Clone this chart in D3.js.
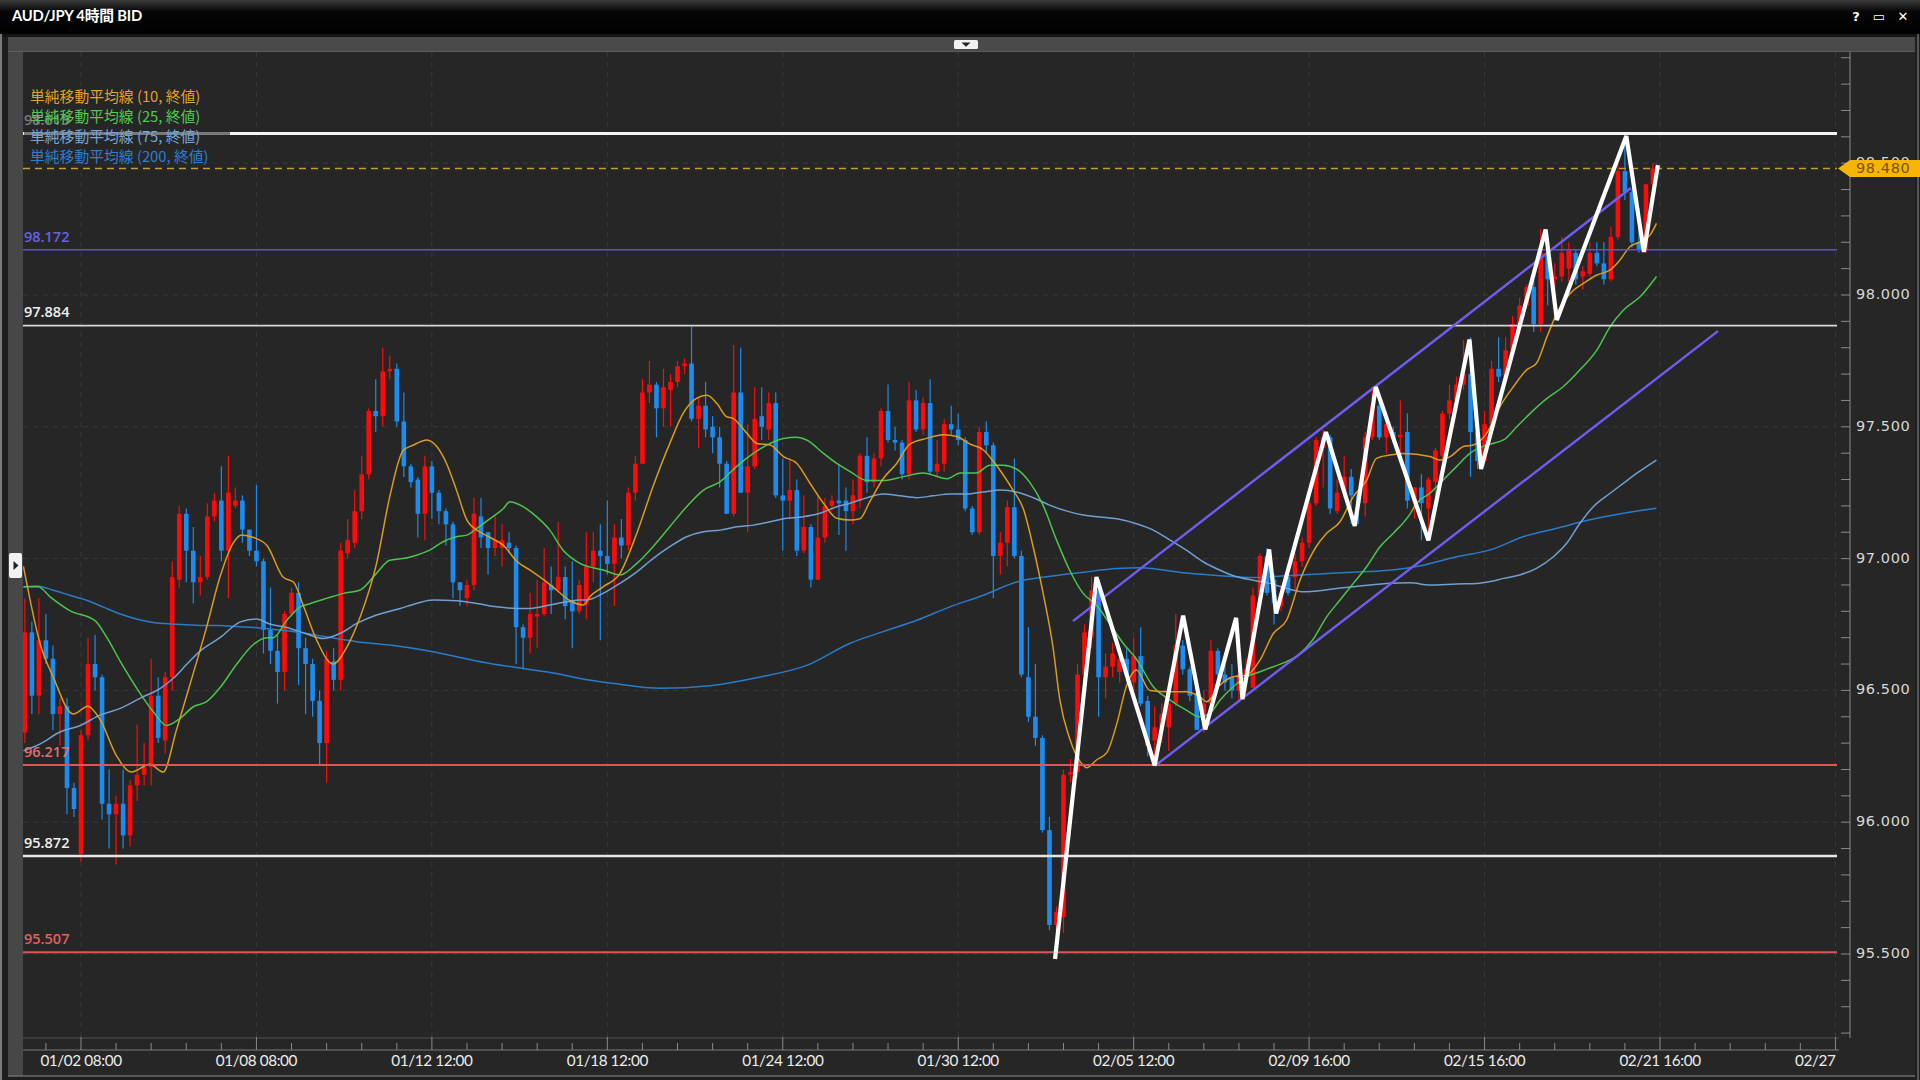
<!DOCTYPE html>
<html><head><meta charset="utf-8">
<script src="https://cdn.jsdelivr.net/npm/d3@7"></script>
<style>html,body{margin:0;padding:0;background:#1b1b1b;overflow:hidden}</style>
</head><body>
<svg id="c" width="1920" height="1080"></svg>
<script>
// ---------------- DATA ----------------
const opens  = [96.34,96.72,96.48,96.69,96.62,96.41,96.44,96.13,95.88,96.33,96.60,96.55,96.07,96.03,96.07,95.95,96.14,96.18,96.21,96.48,96.31,96.55,96.92,97.17,97.03,96.91,96.93,97.16,97.22,97.03,97.20,97.22,97.11,97.03,96.99,96.73,96.65,96.57,96.79,96.87,96.66,96.60,96.46,96.30,96.61,96.54,97.02,97.06,97.18,97.32,97.56,97.54,97.71,97.72,97.52,97.35,97.30,97.17,97.35,97.25,97.18,97.13,96.91,96.85,96.90,97.16,97.10,97.04,97.04,97.06,97.04,96.74,96.70,96.78,96.79,96.90,96.88,96.93,96.84,96.80,96.83,96.97,97.03,97.01,96.98,97.08,97.05,97.25,97.36,97.63,97.66,97.57,97.64,97.67,97.73,97.74,97.53,97.58,97.50,97.46,97.36,97.17,97.63,97.25,97.35,97.54,97.49,97.59,97.24,97.22,97.26,97.03,97.12,96.92,97.08,97.20,97.22,97.22,97.18,97.22,97.39,97.29,97.38,97.56,97.45,97.44,97.32,97.60,97.49,97.59,97.33,97.36,97.51,97.49,97.45,97.19,97.10,97.48,97.43,97.01,97.06,97.195,97.01,96.55,96.40,96.32,95.97,95.61,95.64,96.18,96.19,96.56,96.70,96.88,96.55,96.59,96.57,96.62,96.53,96.63,96.46,96.31,96.36,96.36,96.45,96.67,96.58,96.49,96.36,96.45,96.65,96.56,96.55,96.50,96.56,96.51,96.86,97.01,96.92,96.82,96.93,96.93,96.99,97.06,97.21,97.42,97.46,97.18,97.25,97.31,97.24,97.21,97.46,97.58,97.46,97.48,97.46,97.48,97.22,97.27,97.19,97.29,97.39,97.55,97.60,97.66,97.70,97.48,97.37,97.51,97.72,97.69,97.79,97.89,97.96,98.03,97.89,98.16,98.06,98.07,98.10,98.16,98.07,98.08,98.16,98.12,98.06,98.22,98.47,98.39,98.20,98.17,98.42];
const highs  = [96.85,96.76,96.85,96.79,96.67,96.47,96.47,96.15,96.35,96.70,96.71,96.56,96.20,96.10,96.20,96.16,96.37,96.30,96.62,96.55,96.57,96.99,97.20,97.19,97.12,97.01,97.21,97.25,97.35,97.39,97.27,97.24,97.11,97.28,97.00,96.89,96.71,96.80,96.89,96.91,96.70,96.62,96.50,96.65,96.66,97.06,97.15,97.26,97.39,97.57,97.68,97.80,97.77,97.74,97.63,97.36,97.31,97.39,97.37,97.26,97.19,97.14,96.91,96.92,97.23,97.23,97.10,97.16,97.13,97.10,97.05,96.75,96.87,96.92,97.04,96.97,97.14,96.97,96.99,96.92,97.10,97.10,97.13,97.22,97.13,97.15,97.27,97.39,97.68,97.75,97.67,97.72,97.70,97.75,97.76,97.88,97.61,97.67,97.54,97.50,97.37,97.81,97.80,97.51,97.65,97.65,97.63,97.63,97.38,97.38,97.30,97.24,97.13,97.24,97.23,97.24,97.36,97.27,97.30,97.40,97.46,97.40,97.57,97.66,97.50,97.45,97.67,97.64,97.61,97.68,97.45,97.53,97.58,97.55,97.46,97.20,97.50,97.52,97.44,97.10,97.22,97.38,97.03,96.74,96.60,96.33,96.02,95.68,96.20,96.24,96.60,96.75,96.93,96.92,96.64,96.68,96.66,96.66,96.70,96.74,96.48,96.44,96.45,96.49,96.79,96.69,96.59,96.50,96.50,96.69,96.66,96.60,96.60,96.65,96.62,96.89,97.02,97.04,96.94,96.90,96.94,97.02,97.08,97.24,97.46,97.49,97.47,97.30,97.39,97.34,97.25,97.48,97.65,97.60,97.56,97.50,97.60,97.55,97.27,97.32,97.31,97.42,97.56,97.66,97.69,97.83,97.84,97.49,97.56,97.75,97.84,97.84,97.92,97.99,98.04,98.06,98.25,98.22,98.12,98.22,98.20,98.17,98.11,98.20,98.20,98.20,98.26,98.50,98.58,98.40,98.33,98.42,98.50];
const lows   = [96.30,96.41,96.41,96.60,96.35,96.29,96.03,96.02,95.85,96.31,96.50,96.01,95.90,95.84,95.90,95.91,96.08,96.14,96.14,96.30,96.26,96.50,96.89,96.91,96.83,96.86,96.92,97.14,96.99,96.85,97.19,97.06,97.01,96.97,96.64,96.60,96.45,96.50,96.78,96.52,96.41,96.40,96.22,96.15,96.50,96.50,97.00,97.04,97.15,97.30,97.48,97.50,97.68,97.50,97.31,97.27,97.08,97.07,97.15,97.13,97.05,96.85,96.82,96.82,96.88,97.04,96.94,97.01,96.97,97.02,96.60,96.58,96.64,96.66,96.78,96.79,96.87,96.77,96.66,96.79,96.77,96.91,96.69,96.94,96.82,97.00,97.03,97.22,97.36,97.59,97.46,97.50,97.50,97.65,97.70,97.52,97.42,97.46,97.40,97.27,97.17,97.16,97.25,97.10,97.34,97.45,97.45,97.23,97.03,97.15,97.01,97.02,96.89,96.92,97.06,97.18,97.09,97.03,97.13,97.19,97.25,97.27,97.35,97.44,97.41,97.30,97.30,97.48,97.47,97.32,97.31,97.33,97.47,97.43,97.18,97.09,97.09,97.40,96.85,96.94,96.97,97.00,96.55,96.38,96.29,95.96,95.59,95.50,95.58,96.15,96.17,96.50,96.66,96.40,96.47,96.55,96.53,96.53,96.50,96.44,96.25,96.22,96.30,96.27,96.44,96.56,96.46,96.35,96.34,96.44,96.55,96.50,96.47,96.46,96.50,96.51,96.83,96.86,96.75,96.80,96.86,96.88,96.97,97.04,97.20,97.27,97.17,97.17,97.23,97.13,97.13,97.16,97.45,97.45,97.40,97.44,97.40,97.19,97.15,97.07,97.10,97.19,97.35,97.53,97.59,97.64,97.31,97.34,97.36,97.49,97.67,97.69,97.78,97.86,97.95,97.86,97.86,97.96,97.92,98.05,98.05,98.04,98.02,98.07,98.11,98.04,98.05,98.21,98.36,98.18,98.16,98.16,98.40];
const closes = [96.72,96.48,96.69,96.62,96.41,96.44,96.13,96.05,96.33,96.60,96.55,96.07,96.03,96.07,95.95,96.14,96.18,96.21,96.48,96.32,96.55,96.93,97.17,97.03,96.91,96.93,97.16,97.22,97.03,97.25,97.22,97.11,97.03,96.99,96.73,96.65,96.57,96.79,96.87,96.66,96.60,96.46,96.30,96.62,96.54,97.03,97.07,97.18,97.32,97.56,97.54,97.71,97.72,97.52,97.35,97.29,97.17,97.35,97.25,97.18,97.13,96.91,96.88,96.90,97.17,97.08,97.04,97.07,97.07,97.04,96.74,96.70,96.79,96.79,96.91,96.88,96.93,96.82,96.80,96.90,96.97,97.03,97.01,96.98,97.08,97.05,97.25,97.36,97.63,97.66,97.57,97.65,97.67,97.73,97.74,97.53,97.58,97.49,97.46,97.36,97.17,97.63,97.25,97.35,97.53,97.50,97.59,97.24,97.22,97.26,97.03,97.12,96.92,97.08,97.20,97.22,97.21,97.18,97.24,97.39,97.29,97.38,97.56,97.45,97.44,97.32,97.60,97.49,97.59,97.33,97.36,97.51,97.49,97.45,97.19,97.10,97.48,97.43,97.01,97.06,97.195,97.01,96.56,96.40,96.32,95.97,95.61,95.66,96.18,96.19,96.56,96.72,96.88,96.55,96.59,96.64,96.62,96.56,96.63,96.45,96.29,96.36,96.41,96.45,96.67,96.58,96.48,96.35,96.45,96.65,96.56,96.53,96.50,96.56,96.58,96.86,97.01,96.87,96.83,96.87,96.87,96.99,97.06,97.21,97.45,97.46,97.19,97.25,97.31,97.24,97.21,97.46,97.58,97.46,97.51,97.46,97.47,97.22,97.27,97.21,97.30,97.41,97.55,97.60,97.66,97.70,97.48,97.37,97.51,97.72,97.69,97.79,97.89,97.96,98.03,97.89,98.16,98.06,98.07,98.16,98.17,98.06,98.09,98.16,98.12,98.06,98.22,98.47,98.39,98.20,98.17,98.42,98.48];

const xTickIdx    = [8,33,58,83,108,133,158,183,208,233,258];
const xTickLabels = ["01/02 08:00","01/08 08:00","01/12 12:00","01/18 12:00","01/24 12:00","01/30 12:00","02/05 12:00","02/09 16:00","02/15 16:00","02/21 16:00","02/27"];
const yTickValues = [95.5,96.0,96.5,97.0,97.5,98.0,98.5];

const levelPrices = [98.613,98.172,97.884,96.217,95.872,95.507];
const levelLabels = ["98.613","98.172","97.884","96.217","95.872","95.507"];
const levelColors = ["#f4f4f4","#5a52d8","#d6d6d6","#e05454","#e6e6e6","#e05454"];
const levelLabelColors = ["#f4f4f4","#6a62e0","#f0f0f0","#e07070","#f0f0f0","#e06060"];
const currentPrice = 98.480;

const zigIdx   = [146.8,152.7,161.0,165.05,168.2,172.6,173.5,177.3,178.3,185.4,189.5,192.5,200.0,205.85,207.5,216.7,218.3,228.2,230.7,232.7];
const zigPrice = [95.481,96.930,96.216,96.784,96.352,96.775,96.467,97.035,96.792,97.480,97.124,97.651,97.069,97.831,97.340,98.248,97.905,98.603,98.163,98.493];

const channelUpperIdx = [149.35,228.86], channelUpperPrice = [96.763,98.406];
const channelLowerIdx = [161.0,241.26],  channelLowerPrice = [96.213,97.863];

const maNames  = ["単純移動平均線 (10, 終値)","単純移動平均線 (25, 終値)","単純移動平均線 (75, 終値)","単純移動平均線 (200, 終値)"];
const maColors = ["#e3a21f","#4fcc4f","#74a6da","#2a7fd2"];

const sma10 = [[-0.2,96.97],[2.2,96.675],[4.05,96.55],[6.9,96.41],[9.0,96.44],[10.7,96.39],[13.1,96.25],[15.2,96.19],[17.8,96.22],[19.7,96.19],[21.6,96.35],[23.5,96.52],[25.9,96.74],[27.8,96.93],[29.7,97.06],[30.9,97.09],[32.6,97.08],[34.5,97.05],[36.8,96.93],[38.3,96.91],[39.7,96.82],[41.6,96.69],[43.9,96.60],[45.9,96.665],[47.8,96.78],[50.1,96.98],[52.0,97.235],[53.9,97.41],[55.3,97.43],[57.3,97.45],[58.7,97.425],[60.1,97.36],[61.5,97.26],[63.0,97.146],[64.9,97.10],[66.3,97.08],[68.2,97.05],[70.1,96.99],[72.0,96.956],[73.9,96.92],[75.8,96.88],[77.7,96.84],[79.6,96.824],[80.5,96.855],[82.4,96.893],[84.8,96.944],[87.2,97.096],[89.5,97.273],[91.9,97.437],[93.8,97.551],[95.7,97.608],[97.2,97.62],[98.6,97.589],[100.0,97.538],[100.9,97.532],[102.9,97.475],[104.3,97.437],[106.2,97.431],[108.1,97.387],[110.0,97.361],[111.9,97.285],[113.8,97.21],[115.7,97.153],[117.6,97.146],[119.0,97.151],[120.4,97.216],[122.3,97.303],[124.2,97.36],[126.1,97.434],[128.5,97.456],[130.9,97.47],[132.8,97.463],[134.7,97.434],[136.6,97.412],[138.0,97.369],[139.4,97.318],[140.8,97.26],[142.3,97.187],[143.7,97.042],[145.1,96.868],[146.5,96.665],[147.5,96.461],[148.9,96.316],[150.4,96.229],[151.3,96.207],[152.7,96.236],[154.2,96.265],[155.6,96.374],[157.0,96.519],[158.4,96.577],[160.3,96.50],[163.2,96.495],[165.5,96.495],[167.4,96.476],[168.4,96.457],[170.3,96.52],[172.2,96.552],[174.1,96.558],[176.0,96.615],[177.9,96.716],[179.8,96.767],[181.7,96.918],[184.0,97.045],[185.5,97.096],[187.4,97.14],[189.3,97.235],[191.2,97.298],[192.6,97.38],[194.5,97.393],[196.4,97.399],[200.2,97.387],[201.6,97.374],[203.1,97.387],[205.0,97.425],[206.4,97.431],[208.3,97.475],[210.2,97.577],[212.1,97.652],[214.0,97.716],[215.4,97.741],[216.9,97.842],[218.3,97.93],[220.2,98.006],[222.1,98.044],[224.0,98.076],[225.9,98.095],[227.3,98.133],[228.7,98.183],[230.2,98.202],[231.6,98.228],[232.5,98.272]];
const sma25 = [[-0.2,96.893],[1.9,96.893],[3.6,96.855],[6.4,96.803],[10.0,96.765],[11.7,96.70],[13.6,96.61],[15.9,96.51],[18.3,96.419],[20.2,96.367],[22.1,96.393],[24.0,96.438],[25.9,96.457],[27.8,96.51],[30.2,96.60],[32.6,96.675],[34.5,96.70],[35.4,96.70],[37.3,96.765],[39.2,96.816],[40.6,96.829],[43.0,96.849],[45.4,96.868],[47.8,96.881],[50.1,96.944],[52.0,96.994],[53.9,97.0],[55.8,97.013],[57.7,97.032],[59.6,97.064],[61.5,97.083],[63.0,97.089],[64.4,97.115],[66.3,97.152],[68.2,97.19],[69.1,97.216],[71.0,97.197],[72.9,97.159],[74.8,97.108],[76.7,97.032],[79.1,96.982],[82.4,96.957],[84.8,96.938],[87.2,96.982],[89.5,97.045],[91.9,97.121],[94.3,97.197],[96.7,97.26],[99.1,97.292],[101.4,97.349],[103.8,97.399],[106.2,97.437],[108.1,97.456],[110.0,97.46],[111.4,97.45],[113.8,97.399],[115.7,97.361],[117.6,97.33],[120.0,97.296],[122.3,97.296],[125.2,97.311],[128.0,97.325],[131.4,97.303],[133.3,97.325],[135.6,97.325],[137.5,97.354],[139.4,97.354],[141.3,97.34],[143.2,97.289],[145.1,97.202],[147.0,97.071],[148.9,96.955],[150.8,96.868],[152.7,96.824],[154.6,96.752],[156.5,96.679],[158.4,96.618],[160.8,96.514],[163.2,96.463],[165.5,96.425],[167.4,96.40],[168.9,96.413],[170.3,96.463],[172.2,96.514],[174.1,96.552],[176.0,96.571],[177.9,96.59],[179.8,96.609],[181.7,96.64],[183.5,96.691],[185.5,96.779],[187.4,96.843],[189.3,96.906],[191.2,96.969],[193.1,97.045],[195.0,97.096],[197.4,97.17],[198.3,97.21],[200.2,97.248],[202.1,97.298],[204.0,97.349],[205.9,97.399],[208.3,97.431],[210.7,97.45],[212.6,97.50],[214.5,97.551],[216.9,97.608],[219.2,97.652],[221.6,97.716],[224.0,97.791],[225.9,97.88],[227.8,97.943],[230.2,97.994],[232.5,98.07]];
const sma75 = [[-0.2,96.271],[2.2,96.297],[5.0,96.342],[7.9,96.367],[10.7,96.406],[13.6,96.432],[16.4,96.47],[19.3,96.508],[21.2,96.547],[23.1,96.6],[25.0,96.65],[27.8,96.70],[30.7,96.76],[33.0,96.771],[34.9,96.752],[37.3,96.739],[40.2,96.714],[42.5,96.697],[44.9,96.716],[47.3,96.754],[50.1,96.786],[53.5,96.811],[55.8,96.83],[58.2,96.843],[61.5,96.84],[64.4,96.83],[67.2,96.817],[70.1,96.811],[72.0,96.811],[74.8,96.824],[77.2,96.836],[79.1,96.843],[80.1,96.843],[82.4,96.868],[84.8,96.906],[87.2,96.95],[89.5,97.0],[91.9,97.045],[94.3,97.083],[96.7,97.102],[99.1,97.108],[101.4,97.121],[103.8,97.127],[106.2,97.14],[108.6,97.153],[110.9,97.159],[113.3,97.172],[115.7,97.197],[117.6,97.21],[120.0,97.231],[122.3,97.245],[124.7,97.238],[127.1,97.231],[129.4,97.238],[131.8,97.245],[134.2,97.245],[136.6,97.253],[139.0,97.26],[141.3,97.253],[143.7,97.231],[146.1,97.202],[148.5,97.18],[150.8,97.165],[153.2,97.158],[155.6,97.151],[158.4,97.132],[160.8,97.108],[163.2,97.07],[165.5,97.032],[167.9,96.988],[170.3,96.956],[172.7,96.931],[175.0,96.918],[177.4,96.906],[179.8,96.887],[182.2,96.874],[184.5,96.878],[186.9,96.887],[189.3,96.893],[191.7,96.9],[194.0,96.906],[197.4,96.908],[200.2,96.9],[204.0,96.904],[206.9,96.906],[208.8,96.913],[210.7,96.925],[213.0,96.938],[215.4,96.963],[217.8,97.007],[219.7,97.058],[221.6,97.134],[223.5,97.197],[225.9,97.248],[227.8,97.286],[229.7,97.324],[232.5,97.374]];
const sma200 = [[-0.2,96.893],[1.7,96.896],[4.05,96.88],[6.4,96.861],[8.8,96.842],[11.2,96.816],[13.6,96.79],[15.9,96.771],[18.3,96.758],[20.7,96.752],[23.1,96.749],[25.4,96.746],[27.8,96.746],[30.2,96.742],[32.6,96.739],[34.9,96.733],[37.3,96.726],[40.2,96.716],[42.5,96.705],[47.3,96.685],[52.0,96.672],[56.8,96.653],[61.5,96.628],[66.3,96.602],[71.0,96.583],[75.8,96.564],[79.1,96.545],[83.7,96.527],[90.6,96.508],[97.6,96.518],[104.6,96.55],[111.6,96.597],[117.6,96.679],[122.3,96.723],[127.1,96.766],[131.8,96.817],[136.6,96.861],[141.3,96.911],[146.1,96.933],[150.8,96.948],[155.6,96.962],[158.9,96.965],[165.5,96.945],[170.3,96.935],[175.0,96.928],[179.8,96.935],[184.5,96.942],[189.3,96.948],[194.0,96.955],[199.3,96.975],[204.0,97.007],[208.8,97.033],[213.5,97.083],[218.3,97.115],[223.0,97.147],[227.8,97.172],[232.5,97.191]];
const maSeries = [sma10, sma25, sma75, sma200];

// ---------------- LAYOUT ----------------
const W = 1920, H = 1080;
const plot = {left: 23, right: 1837, top: 52, bottom: 1038};
const axisX = 1850;
const svg = d3.select("#c");

const x = d3.scaleLinear().domain([0, 233]).range([24.86, 1660]);
const y = d3.scaleLinear().domain([95.5, 98.0]).range([954, 295]);

const defs = svg.append("defs");
defs.append("clipPath").attr("id","clip").append("rect")
  .attr("x",plot.left).attr("y",plot.top).attr("width",plot.right-plot.left).attr("height",plot.bottom-plot.top);
const tg = defs.append("linearGradient").attr("id","titleg").attr("x1",0).attr("x2",0).attr("y1",0).attr("y2",1);
tg.append("stop").attr("offset","0%").attr("stop-color","#3a3a3a");
tg.append("stop").attr("offset","35%").attr("stop-color","#050505");
tg.append("stop").attr("offset","100%").attr("stop-color","#000");

// window background
svg.append("rect").attr("width",W).attr("height",H).attr("fill","#1e1e1e");
svg.append("rect").attr("x",0).attr("y",0).attr("width",W).attr("height",34).attr("fill","url(#titleg)");
svg.append("rect").attr("x",0).attr("y",34).attr("width",W).attr("height",3).attr("fill","#141414");
svg.append("line").attr("x1",1).attr("x2",1).attr("y1",34).attr("y2",H).attr("stroke","#9a9a9a").attr("stroke-width",1.5);
svg.append("line").attr("x1",W-2).attr("x2",W-2).attr("y1",34).attr("y2",H).attr("stroke","#6a6a6a").attr("stroke-width",1.5);

// chart panel
svg.append("rect").attr("x",8).attr("y",37).attr("width",W-13).attr("height",1039).attr("fill","#262626");
svg.append("rect").attr("x",8).attr("y",37).attr("width",W-13).attr("height",14).attr("fill","#4a4a4a");
svg.append("line").attr("x1",8).attr("x2",W-5).attr("y1",51.5).attr("y2",51.5).attr("stroke","#5c5c5c");
svg.append("rect").attr("x",954).attr("y",40).attr("width",24).attr("height",9).attr("rx",1.5).attr("fill","#f0f0f0");
svg.append("path").attr("d","M961.5,42.5 L970.5,42.5 L966,46.8 Z").attr("fill","#222");
svg.append("rect").attr("x",8).attr("y",52).attr("width",15).attr("height",1024).attr("fill","#474747");
svg.append("rect").attr("x",9).attr("y",553).attr("width",13).attr("height",25).attr("rx",2).attr("fill","#f2f2f2");
svg.append("path").attr("d","M13.5,561 L18.5,565.5 L13.5,570 Z").attr("fill","#222");
svg.append("line").attr("x1",8).attr("x2",W-5).attr("y1",1076).attr("y2",1076).attr("stroke","#6e6e6e").attr("stroke-width",1.5);

// title
svg.append("text").attr("x",12).attr("y",17).attr("dominant-baseline","middle")
  .attr("font-family","Lato, 'Noto Sans CJK JP', sans-serif").attr("font-weight","bold").attr("font-size",14.8)
  .attr("letter-spacing","-0.2").attr("fill","#fff").text("AUD/JPY 4時間 BID");
const icons = [["?",1856],["▭",1879],["✕",1903]];
svg.selectAll("text.icon").data(icons).join("text").attr("class","icon")
  .attr("x",d=>d[1]).attr("y",17).attr("text-anchor","middle").attr("dominant-baseline","middle")
  .attr("font-family","'DejaVu Sans', sans-serif").attr("font-weight","bold").attr("font-size",13).attr("fill","#fff").text(d=>d[0]);

// ---------------- GRID ----------------
const grid = svg.append("g").attr("clip-path","url(#clip)");
grid.selectAll("line.hg").data(yTickValues).join("line").attr("class","hg")
  .attr("x1",plot.left).attr("x2",plot.right).attr("y1",d=>y(d)).attr("y2",d=>y(d))
  .attr("stroke","#3a3a3a").attr("stroke-dasharray","5,5");
grid.selectAll("line.vg").data(xTickIdx).join("line").attr("class","vg")
  .attr("x1",d=>x(d)).attr("x2",d=>x(d)).attr("y1",plot.top).attr("y2",plot.bottom)
  .attr("stroke","#3a3a3a").attr("stroke-dasharray","5,5");

// ---------------- CANDLES ----------------
const candles = opens.map((o,i)=>({i, o, h:highs[i], l:lows[i], c:closes[i]}));
const UP = "#ff0a0a", DOWN = "#1b8cf0";
const cg = svg.append("g").attr("clip-path","url(#clip)");
const bw = 4.6;
cg.selectAll("line.wick").data(candles).join("line").attr("class","wick")
  .attr("x1",d=>x(d.i)).attr("x2",d=>x(d.i)).attr("y1",d=>y(d.h)).attr("y2",d=>y(d.l))
  .attr("stroke",d=>d.c>=d.o?UP:DOWN).attr("stroke-width",1.2);
cg.selectAll("rect.body").data(candles).join("rect").attr("class","body")
  .attr("x",d=>x(d.i)-bw/2).attr("width",bw)
  .attr("y",d=>y(Math.max(d.o,d.c))).attr("height",d=>Math.max(1.2, Math.abs(y(d.o)-y(d.c))))
  .attr("fill",d=>d.c>=d.o?UP:DOWN);

// ---------------- MOVING AVERAGES ----------------
const maLine = d3.line().x(d=>x(d[0])).y(d=>y(d[1])).curve(d3.curveMonotoneX);
const mg = svg.append("g").attr("clip-path","url(#clip)");
[3,2,1,0].forEach(k=>{
  mg.append("path").attr("d",maLine(maSeries[k])).attr("fill","none")
    .attr("stroke",maColors[k]).attr("stroke-width",1.5).attr("stroke-opacity",0.95);
});

// ---------------- LEVELS ----------------
const lg = svg.append("g").attr("clip-path","url(#clip)");
const levelWidths = [3,1.5,1.6,2,2.6,2];
lg.selectAll("line.lvl").data(levelPrices).join("line").attr("class","lvl")
  .attr("x1",plot.left).attr("x2",plot.right).attr("y1",d=>y(d)).attr("y2",d=>y(d))
  .attr("stroke",(d,i)=>levelColors[i]).attr("stroke-width",(d,i)=>levelWidths[i]);
lg.append("line").attr("x1",plot.left).attr("x2",plot.right).attr("y1",y(currentPrice)).attr("y2",y(currentPrice))
  .attr("stroke","#c99a26").attr("stroke-width",1.6).attr("stroke-dasharray","7,5");
svg.selectAll("text.lvl").data(levelPrices).join("text").attr("class","lvl")
  .attr("x",24).attr("y",d=>y(d)-12).attr("dominant-baseline","middle")
  .attr("font-family","'Open Sans', sans-serif").attr("font-size",14.5).attr("font-weight",600)
  .attr("fill",(d,i)=>levelLabelColors[i]).text((d,i)=>levelLabels[i]);

// ---------------- CHANNEL + ZIGZAG ----------------
const ag = svg.append("g").attr("clip-path","url(#clip)");
const straight = d3.line().x(d=>x(d[0])).y(d=>y(d[1]));
ag.append("path").attr("d",straight(channelUpperIdx.map((v,k)=>[v,channelUpperPrice[k]])))
  .attr("stroke","#6f5ef5").attr("stroke-width",2.4).attr("fill","none");
ag.append("path").attr("d",straight(channelLowerIdx.map((v,k)=>[v,channelLowerPrice[k]])))
  .attr("stroke","#6f5ef5").attr("stroke-width",2.4).attr("fill","none");
ag.append("path").attr("d",straight(zigIdx.map((v,k)=>[v,zigPrice[k]])))
  .attr("stroke","#ffffff").attr("stroke-width",4.2).attr("fill","none").attr("stroke-linejoin","miter").attr("stroke-miterlimit",3);

// ---------------- LEGEND ----------------
svg.append("rect").attr("x",24).attr("y",86).attr("width",206).attr("height",80).attr("fill","#262626").attr("fill-opacity",0.6);
svg.selectAll("text.leg").data(maNames).join("text").attr("class","leg")
  .attr("x",30).attr("y",(d,i)=>97.5+i*20).attr("dominant-baseline","middle")
  .attr("font-family","'Noto Sans CJK JP', sans-serif").attr("font-size",14.8)
  .attr("fill",(d,i)=>maColors[i]).text(d=>d);

// ---------------- Y AXIS ----------------
svg.append("line").attr("x1",axisX).attr("x2",axisX).attr("y1",plot.top).attr("y2",plot.bottom)
  .attr("stroke","#8a8a8a").attr("stroke-width",1);
const minorY = d3.range(952, 990).map(v=>v/10).filter(v=>y(v)>plot.top && y(v)<plot.bottom);
svg.selectAll("line.yt").data(minorY).join("line").attr("class","yt")
  .attr("x1",axisX-9).attr("x2",axisX).attr("y1",d=>y(d)).attr("y2",d=>y(d)).attr("stroke","#8a8a8a");
svg.selectAll("text.yl").data(yTickValues).join("text").attr("class","yl")
  .attr("x",1856).attr("y",d=>y(d)).attr("dominant-baseline","middle")
  .attr("font-family","'DejaVu Sans', sans-serif").attr("font-size",14.5).attr("letter-spacing","0.6").attr("fill","#d8d8d8")
  .text(d=>d3.format(".3f")(d));
const cy = y(currentPrice);
svg.append("path").attr("d",`M${axisX-12},${cy} L${axisX},${cy-8.5} L${W},${cy-8.5} L${W},${cy+8.5} L${axisX},${cy+8.5} Z`).attr("fill","#f7b500");
svg.append("text").attr("x",1856).attr("y",cy+0.5).attr("dominant-baseline","middle")
  .attr("font-family","'DejaVu Sans', sans-serif").attr("font-size",14.5).attr("letter-spacing","0.6").attr("fill","#7b5600")
  .text(d3.format(".3f")(currentPrice));

// ---------------- X AXIS ----------------
svg.append("line").attr("x1",plot.left).attr("x2",plot.right+2).attr("y1",plot.bottom).attr("y2",plot.bottom).attr("stroke","#4e4e4e");
svg.append("line").attr("x1",plot.left).attr("x2",plot.right+2).attr("y1",1050).attr("y2",1050).attr("stroke","#7a7a7a");
const minorX = d3.range(3, 259, 5);
svg.selectAll("line.xt").data(minorX).join("line").attr("class","xt")
  .attr("x1",d=>x(d)).attr("x2",d=>x(d)).attr("y1",d=>xTickIdx.includes(d)?1037:1043).attr("y2",1050)
  .attr("stroke","#8a8a8a");
svg.selectAll("text.xl").data(xTickIdx).join("text").attr("class","xl")
  .attr("x",d=>Math.min(x(d), plot.right+2))
  .attr("text-anchor",d=>x(d)+40>plot.right?"end":"middle")
  .attr("y",1062).attr("dominant-baseline","middle")
  .attr("font-family","Lato, sans-serif").attr("font-size",15.3).attr("letter-spacing","-0.4")
  .attr("fill","#ececec").text((d,i)=>xTickLabels[i]);
</script>
</body></html>
